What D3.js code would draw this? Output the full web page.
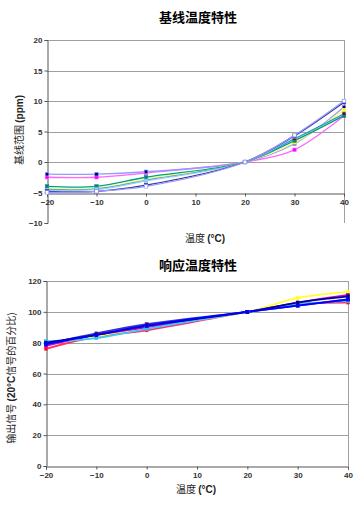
<!DOCTYPE html>
<html><head><meta charset="utf-8">
<script src="https://cdn.jsdelivr.net/npm/d3@7"></script>
<style>
html,body{margin:0;padding:0;background:#fff;}
svg{display:block;}
</style></head>
<body>
<svg id="c" width="358" height="507"></svg>
<script>
// ---------- data ----------
const temps = [-20, -10, 0, 20, 30, 40];
const xTicks = [-20, -10, 0, 10, 20, 30, 40];

const baselineTicks = [-10, -5, 0, 5, 10, 15, 20];
const baselineSeries = [
  {name: "S1", color: "#ff66ff", marker: "#ff00ff", values: [-2.5, -2.5, -1.8, 0, 2.0, 7.6]},
  {name: "S2", color: "#9999ff", marker: "#000080", values: [-2.0, -2.0, -1.6, 0, 3.0, 9.0]},
  {name: "S3", color: "#ffff66", marker: "#ffff00", values: [-4.3, -4.3, -2.8, 0, 3.2, 8.5]},
  {name: "S4", color: "#00a080", marker: "#008080", values: [-4.0, -4.0, -2.5, 0, 3.5, 7.6]},
  {name: "S5", color: "#3399cc", marker: "#800000", values: [-4.5, -4.4, -3.0, 0, 3.8, 7.9]},
  {name: "S6", color: "#99ccff", marker: "#99ccff", values: [-4.6, -4.5, -3.1, 0, 4.2, 10.0]},
  {name: "S7", color: "#333399", marker: "#333399", values: [-4.8, -4.8, -3.8, 0, 4.3, 9.8]},
  {name: "S8", color: "#9999ff", marker: "#ffffff", values: [-5.0, -4.8, -4.0, 0, 4.4, 10.0]}
];

const responseTicks = [0, 20, 40, 60, 80, 100, 120];
const responseSeries = [
  {name: "R1", color: "#ff3366", marker: "#ff0000", values: [76, 84, 88, 100, 105, 106]},
  {name: "R2", color: "#ffff33", marker: "#ffff00", values: [79, 84, 90, 100, 109, 113]},
  {name: "R3", color: "#cc00cc", marker: "#800080", values: [78, 85, 90, 100, 106, 111]},
  {name: "R4", color: "#33ccff", marker: "#00ccff", values: [81, 83, 89, 100, 105, 107]},
  {name: "R5", color: "#3333cc", marker: "#800000", values: [79, 86, 92, 100, 104, 108]},
  {name: "R6", color: "#000099", marker: "#000080", values: [80, 85, 91, 100, 106, 110]},
  {name: "R7", color: "#0000ff", marker: "#0000ff", values: [79, 85, 91, 100, 104, 108]}
];

// ---------- drawing ----------
const svg = d3.select("#c");
const fontLat = "Arial, 'Liberation Sans', sans-serif";
const fontCJK = "'Noto Sans CJK SC', sans-serif";

function drawChart(cfg) {
  const g = svg.append("g");
  const x = d3.scaleLinear().domain([-20, 40]).range([cfg.left, cfg.right]);
  const y = d3.scaleLinear().domain([cfg.yTicks[0], cfg.yTicks[cfg.yTicks.length - 1]]).range([cfg.bottom, cfg.top]);

  // title
  g.append("text").attr("x", cfg.titleX).attr("y", cfg.titleY)
    .attr("text-anchor", "middle").attr("font-family", fontCJK)
    .attr("font-weight", "bold").attr("font-size", 13).attr("fill", "#000")
    .text(cfg.title);

  // gridlines
  g.selectAll(".grid").data(cfg.yTicks.filter(v => v !== cfg.yTicks[0] && v !== cfg.xCross))
    .join("line")
    .attr("x1", cfg.left).attr("x2", cfg.right)
    .attr("y1", d => Math.round(y(d)) + 0.5).attr("y2", d => Math.round(y(d)) + 0.5)
    .attr("stroke", "#a0a0a0").attr("stroke-width", 1);

  // right border
  g.append("line").attr("x1", cfg.right + 0.5).attr("x2", cfg.right + 0.5)
    .attr("y1", cfg.top).attr("y2", cfg.bottom).attr("stroke", "#a0a0a0");

  // y axis
  const yAxis = d3.axisLeft(y).tickValues(cfg.yTicks).tickSize(3).tickFormat(d3.format("d"));
  const ya = g.append("g").attr("transform", `translate(${cfg.left + 0.5},0)`).call(yAxis);
  ya.select(".domain").attr("stroke", "#555");
  ya.selectAll(".tick line").attr("stroke", "#555");
  ya.selectAll("text").attr("font-family", fontLat).attr("font-size", 8)
    .attr("font-weight", "bold").attr("fill", "#333").attr("x", -5);

  // x axis
  const xAxis = d3.axisBottom(x).tickValues(xTicks).tickSize(3).tickFormat(d3.format("d"));
  const xa = g.append("g").attr("transform", `translate(0,${Math.round(y(cfg.xCross)) + 0.5})`).call(xAxis);
  xa.select(".domain").attr("stroke", "#555");
  xa.selectAll(".tick line").attr("stroke", "#555");
  xa.selectAll("text").attr("font-family", fontLat).attr("font-size", 8)
    .attr("font-weight", "bold").attr("fill", "#333").attr("y", 6);

  // x label
  const xl = g.append("text").attr("x", cfg.xLabelX).attr("y", cfg.xLabelY)
    .attr("text-anchor", "middle").attr("font-size", 10).attr("fill", "#222");
  xl.append("tspan").attr("font-family", fontCJK).text("温度 ");
  xl.append("tspan").attr("font-family", fontLat).attr("font-weight", "bold").text("(°C)");

  // y label
  const yl = g.append("text").attr("transform", `translate(${cfg.yLabelX},${cfg.yLabelY}) rotate(-90)`)
    .attr("text-anchor", "middle").attr("font-size", 10).attr("fill", "#222");
  cfg.yLabel.forEach(p => {
    yl.append("tspan").attr("font-family", p.cjk ? fontCJK : fontLat)
      .attr("font-weight", p.cjk ? "normal" : "bold").text(p.t);
  });

  // lines
  const line = d3.line().x((d, i) => x(temps[i])).y(d => y(d)).curve(d3.curveCatmullRom.alpha(0.5));
  const lg = g.append("g");
  cfg.series.forEach(s => {
    lg.append("path").datum(s.values).attr("d", line)
      .attr("fill", "none").attr("stroke", s.color).attr("stroke-width", cfg.lw);
  });
  cfg.series.forEach(s => {
    lg.selectAll(null).data(s.values).join("rect")
      .attr("x", (d, i) => x(temps[i]) - cfg.ms / 2).attr("y", d => y(d) - cfg.ms / 2)
      .attr("width", cfg.ms).attr("height", cfg.ms)
      .attr("fill", s.marker).attr("stroke", s.color).attr("stroke-width", 0.6);
  });
}

drawChart({
  title: "基线温度特性", titleX: 198, titleY: 22,
  left: 47, right: 344, top: 40, bottom: 223,
  yTicks: baselineTicks, xCross: -5, series: baselineSeries,
  xLabelX: 205, xLabelY: 242, yLabelX: 23, yLabelY: 130,
  yLabel: [{t: "基线范围 ", cjk: true}, {t: "(ppm)", cjk: false}],
  lw: 1.3, ms: 3.5
});

drawChart({
  title: "响应温度特性", titleX: 198, titleY: 270,
  left: 46, right: 348, top: 281, bottom: 466,
  yTicks: responseTicks, xCross: 0, series: responseSeries,
  xLabelX: 196, xLabelY: 493, yLabelX: 15, yLabelY: 378,
  yLabel: [{t: "输出信号 ", cjk: true}, {t: "(20°C", cjk: false}, {t: "信号的百分比)", cjk: true}],
  lw: 1.8, ms: 3
});
</script>
</body></html>
